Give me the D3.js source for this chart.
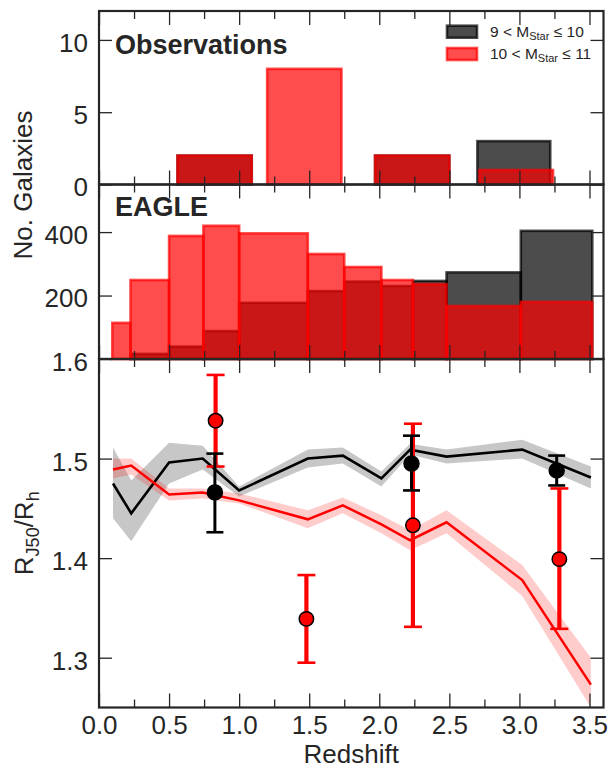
<!DOCTYPE html>
<html><head><meta charset="utf-8">
<script src="https://cdn.jsdelivr.net/npm/d3@7"></script>
<style>
body{margin:0;background:#fff}
svg{display:block}
text{font-family:"Liberation Sans",Arial,Helvetica,sans-serif}
</style>
</head><body>
<svg id="c" width="611" height="769"></svg>
<script>
// ---------------- DATA ----------------
const xMajor = [0,0.5,1.0,1.5,2.0,2.5,3.0,3.5];
const xMajorLabels = ["0.0","0.5","1.0","1.5","2.0","2.5","3.0","3.5"];
const xMinor = [0.25,0.75,1.25,1.75,2.25,2.75,3.25];

const topTicks = [0,5,10];
const midTicks = [200,400];
const botTicks = [1.3,1.4,1.5,1.6];

// Observations histogram
const obsBlackLeft  = [0.56,1.20,1.97,2.70];
const obsBlackRight = [1.09,1.73,2.50,3.22];
const obsBlackCount = [2,0,2,3];
const obsRedLeft    = [0.56,1.20,1.97,2.715];
const obsRedRight   = [1.09,1.73,2.50,3.24];
const obsRedCount   = [2,8,2,1];

// EAGLE histogram (bin edges)
const eagleEdges = [0.095,0.225,0.50,0.745,1.0,1.49,1.75,2.015,2.24,2.48,3.01,3.52];
const eagleBlack = [0,16,39,88,177,214,244,230,246,273,404];
const eagleRed   = [114,249,388,420,396,331,290,249,236,167,180];

// EAGLE size ratio tracks
const lineZ      = [0.10,0.23,0.50,0.74,1.0,1.49,1.74,2.015,2.22,2.48,3.02,3.51];
const blackMed   = [1.475,1.445,1.496,1.500,1.468,1.500,1.503,1.480,1.509,1.502,1.509,1.481];
const blackUp    = [1.511,1.478,1.516,1.513,1.472,1.509,1.511,1.487,1.515,1.509,1.519,1.492];
const blackLo    = [1.440,1.417,1.475,1.489,1.462,1.491,1.495,1.472,1.504,1.495,1.500,1.470];
const redMed     = [1.489,1.493,1.464,1.466,1.458,1.439,1.453,1.434,1.418,1.436,1.378,1.273];
const redUp      = [1.500,1.500,1.470,1.470,1.465,1.448,1.461,1.443,1.428,1.448,1.393,1.300];
const redLo      = [1.480,1.484,1.458,1.460,1.455,1.430,1.445,1.425,1.408,1.425,1.362,1.250];

// Observed points
const obsBlackZ  = [0.827,2.23,3.266];
const obsBlackY  = [1.466,1.495,1.488];
const obsBlackLo = [1.426,1.468,1.473];
const obsBlackHi = [1.505,1.523,1.503];
const obsRedZ    = [0.832,1.48,2.24,3.285];
const obsRedY    = [1.538,1.339,1.433,1.399];
const obsRedLo   = [1.492,1.295,1.331,1.329];
const obsRedHi   = [1.584,1.383,1.535,1.470];

// ---------------- LAYOUT ----------------
const svg = d3.select("#c");
const L = 99, R = 603.5;
const P = {top:[11,184.5], mid:[184.5,359], bot:[359,707.5]};
const INK = "#262626";

const x = d3.scaleLinear().domain([0,3.6]).range([L,R]);
const yTop = d3.scaleLinear().domain([0,12]).range([P.top[1],P.top[0]]);
const yMid = d3.scaleLinear().domain([0,550]).range([P.mid[1],P.mid[0]]);
const yBot = d3.scaleLinear().domain([1.25,1.6]).range([P.bot[1],P.bot[0]]);

const defs = svg.append("defs");
defs.append("clipPath").attr("id","clipBot").append("rect")
  .attr("x",L).attr("y",P.bot[0]).attr("width",R-L).attr("height",P.bot[1]-P.bot[0]);

// ---------------- BARS ----------------
function bars(g, ys, lefts, rights, vals, color){
  const idx = vals.map((v,i)=>i).filter(i=>vals[i]>0);
  g.selectAll(null).data(idx).join("rect")
    .attr("x",i=>x(lefts[i])).attr("width",i=>x(rights[i])-x(lefts[i]))
    .attr("y",i=>ys(vals[i])).attr("height",i=>ys(0)-ys(vals[i]))
    .attr("fill",color).attr("fill-opacity",0.7)
    .attr("stroke",color).attr("stroke-opacity",0.7).attr("stroke-width",2.6);
}
const gTop = svg.append("g");
bars(gTop, yTop, obsBlackLeft, obsBlackRight, obsBlackCount, "#000");
bars(gTop, yTop, obsRedLeft, obsRedRight, obsRedCount, "#ff0000");

const gMid = svg.append("g");
const eL = eagleEdges.slice(0,-1), eR = eagleEdges.slice(1);
bars(gMid, yMid, eL, eR, eagleBlack, "#000");
bars(gMid, yMid, eL, eR, eagleRed, "#ff0000");

// ---------------- BOTTOM PANEL ----------------
const gBot = svg.append("g").attr("clip-path","url(#clipBot)");
const idxs = lineZ.map((d,i)=>i);
const area = (up,lo)=>d3.area().x(i=>x(lineZ[i])).y0(i=>yBot(lo[i])).y1(i=>yBot(up[i]));
const line = (m)=>d3.line().x(i=>x(lineZ[i])).y(i=>yBot(m[i]));
gBot.append("path").attr("d",area(blackUp,blackLo)(idxs)).attr("fill","#000").attr("fill-opacity",0.22);
gBot.append("path").attr("d",area(redUp,redLo)(idxs)).attr("fill","#ff0000").attr("fill-opacity",0.2);
gBot.append("path").attr("d",line(blackMed)(idxs)).attr("fill","none").attr("stroke","#000").attr("stroke-width",2.6);
gBot.append("path").attr("d",line(redMed)(idxs)).attr("fill","none").attr("stroke","#ff0000").attr("stroke-width",2.5);

function errs(g, zs, ys, lo, hi, color, lw, capW, r){
  const idx = zs.map((d,i)=>i);
  g.selectAll(null).data(idx).join("line")
    .attr("x1",i=>x(zs[i])).attr("x2",i=>x(zs[i]))
    .attr("y1",i=>yBot(lo[i])).attr("y2",i=>yBot(hi[i]))
    .attr("stroke",color).attr("stroke-width",lw);
  [lo,hi].forEach(arr=>{
    g.selectAll(null).data(idx).join("line")
      .attr("x1",i=>x(zs[i])-capW/2).attr("x2",i=>x(zs[i])+capW/2)
      .attr("y1",i=>yBot(arr[i])).attr("y2",i=>yBot(arr[i]))
      .attr("stroke",color).attr("stroke-width",2.6);
  });
  g.selectAll(null).data(idx).join("circle")
    .attr("cx",i=>x(zs[i])).attr("cy",i=>yBot(ys[i])).attr("r",r)
    .attr("fill",color).attr("stroke","#000").attr("stroke-width",1.5);
}
const gErr = svg.append("g");
errs(gErr, obsRedZ, obsRedY, obsRedLo, obsRedHi, "#ff0000", 4.2, 18, 7.2);
errs(gErr, obsBlackZ, obsBlackY, obsBlackLo, obsBlackHi, "#000", 3, 17, 7.5);

// ---------------- AXES ----------------
function styleAxis(g){
  g.select(".domain").remove();
  g.selectAll(".tick line").attr("stroke",INK).attr("stroke-width",1.3);
  g.selectAll(".tick text").attr("fill",INK).attr("font-size",26)
    .attr("font-family",'"Liberation Sans",Arial,sans-serif');
  g.attr("font-family",null).attr("font-size",null);
}
function xAxes(y0,y1,labels){
  const b = svg.append("g").attr("transform",`translate(0,${y1})`)
    .call(d3.axisBottom(x).tickValues(xMajor).tickSize(-14).tickPadding(8)
      .tickFormat(labels ? ((d,i)=>xMajorLabels[i]) : ""));
  styleAxis(b);
  styleAxis(svg.append("g").attr("transform",`translate(0,${y1})`)
    .call(d3.axisBottom(x).tickValues(xMinor).tickSize(-8).tickFormat("")));
  styleAxis(svg.append("g").attr("transform",`translate(0,${y0})`)
    .call(d3.axisTop(x).tickValues(xMajor).tickSize(-14).tickFormat("")));
  styleAxis(svg.append("g").attr("transform",`translate(0,${y0})`)
    .call(d3.axisTop(x).tickValues(xMinor).tickSize(-8).tickFormat("")));
}
function yAxes(ys, ticks, fmt){
  const a = svg.append("g").attr("transform",`translate(${L},0)`)
    .call(d3.axisLeft(ys).tickValues(ticks).tickSize(-13).tickPadding(11).tickFormat(fmt));
  styleAxis(a);
  a.selectAll(".tick text").attr("dy","0.44em");
  styleAxis(svg.append("g").attr("transform",`translate(${R},0)`)
    .call(d3.axisRight(ys).tickValues(ticks).tickSize(-13).tickFormat("")));
}
xAxes(P.top[0],P.top[1],false);
xAxes(P.mid[0],P.mid[1],false);
xAxes(P.bot[0],P.bot[1],true);
yAxes(yTop, topTicks, d3.format("d"));
yAxes(yMid, midTicks, d3.format("d"));
yAxes(yBot, botTicks, d3.format(".1f"));

// frames
[P.top,P.mid,P.bot].forEach(p=>{
  svg.append("rect").attr("x",L).attr("y",p[0]).attr("width",R-L).attr("height",p[1]-p[0])
    .attr("fill","none").attr("stroke",INK).attr("stroke-width",2.2);
});

// ---------------- TEXT ----------------
svg.append("text").attr("x",115).attr("y",54).attr("font-size",27).attr("font-weight","bold")
  .attr("fill",INK).text("Observations");
svg.append("text").attr("x",115).attr("y",216).attr("font-size",27).attr("font-weight","bold")
  .attr("fill",INK).text("EAGLE");

svg.append("text").attr("transform",`translate(32,${(P.top[0]+P.mid[1])/2}) rotate(-90)`)
  .attr("text-anchor","middle").attr("font-size",26).attr("fill",INK).text("No. Galaxies");

const yl = svg.append("text").attr("transform",`translate(33,${(P.bot[0]+P.bot[1])/2}) rotate(-90)`)
  .attr("text-anchor","middle").attr("font-size",26).attr("fill",INK);
yl.append("tspan").text("R");
yl.append("tspan").attr("font-size",18).attr("dy",6).text("J50");
yl.append("tspan").attr("dy",-6).text("/R");
yl.append("tspan").attr("font-size",18).attr("dy",6).text("h");

svg.append("text").attr("x",(L+R)/2).attr("y",763).attr("text-anchor","middle")
  .attr("font-size",26).attr("fill",INK).text("Redshift");

// legend
const legendItems = [["#000","9","10"],["#ff0000","10","11"]];
const lg = svg.append("g");
legendItems.forEach((it,k)=>{
  const yy = 25.7 + k*22.3;
  lg.append("rect").attr("x",447).attr("y",yy).attr("width",30).attr("height",12)
    .attr("fill",it[0]).attr("fill-opacity",0.7).attr("stroke",it[0]).attr("stroke-opacity",0.7).attr("stroke-width",2.6);
  const t = lg.append("text").attr("x",490).attr("y",yy+11.3).attr("font-size",15.5).attr("fill",INK);
  t.append("tspan").text(it[1]+" < M");
  t.append("tspan").attr("font-size",11).attr("dy",3).text("Star");
  t.append("tspan").attr("dy",-3).text(" \u2264 "+it[2]);
});
</script>
</body></html>
